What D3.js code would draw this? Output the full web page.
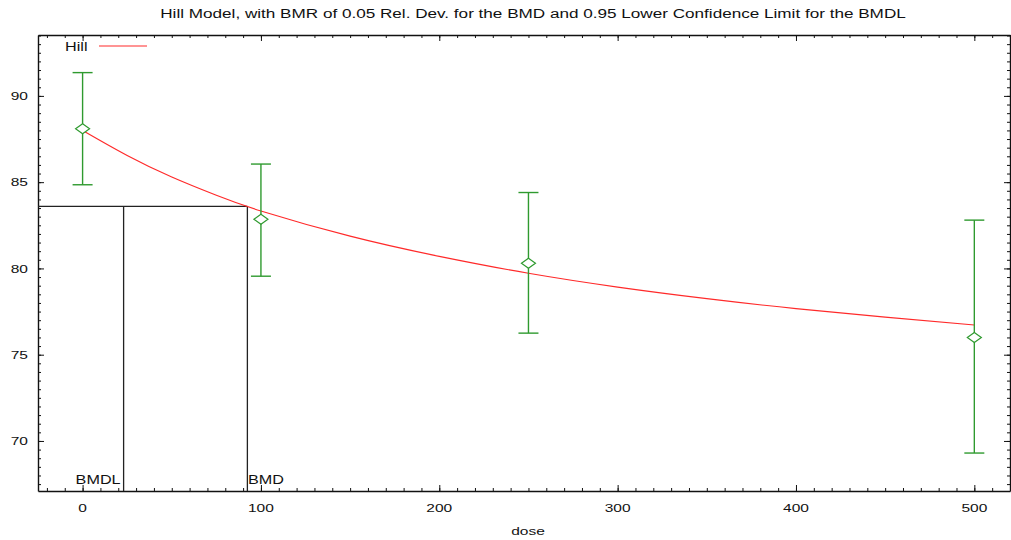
<!DOCTYPE html>
<html>
<head>
<meta charset="utf-8">
<script src="https://cdn.jsdelivr.net/npm/d3@7"></script>
<style>
  html, body { margin: 0; padding: 0; background: #fff; }
  svg { display: block; }
  text { font-family: "Liberation Sans", Arial, sans-serif; fill: #111; }
</style>
</head>
<body>
<svg id="chart" width="1011" height="540"></svg>
<script>
// Observed group means and error bar limits
const doses = [0, 100, 250, 500];
const means = [88.1, 82.85, 80.3, 76.0];
const lowerLimits = [84.85, 79.55, 76.25, 69.3];
const upperLimits = [91.35, 86.05, 84.4, 82.8];

// Fitted Hill model curve
const fitDoses = [0, 25, 50, 75, 100, 150, 200, 250, 300, 350, 400, 450, 500];
const fitValues = [88.0, 86.55, 85.3, 84.24, 83.33, 81.87, 80.7, 79.72, 78.92, 78.25, 77.67, 77.18, 76.72];

// Benchmark dose markers
const bmdLevel = 83.6;
const bmd = 92.4;
const bmdl = 23.0;

// Axis ticks
const xTicks = [0, 100, 200, 300, 400, 500];
const yTicks = [70, 75, 80, 85, 90];

const titleText = "Hill Model, with BMR of 0.05 Rel. Dev. for the BMD and 0.95 Lower Confidence Limit for the BMDL";
const xLabel = "dose";
const seriesName = "Hill";

const svg = d3.select("#chart");
const plotLeft = 38, plotRight = 1010, plotTop = 35, plotBottom = 491;
const stretch = 1.35;

const x = d3.scaleLinear().domain([-25, 520]).range([plotLeft, plotRight]);
const y = d3.scaleLinear().domain([67.1, 93.53]).range([plotBottom, plotTop]);

// text drawn with a slight horizontal stretch
function label(g, tx, ty, str, anchor, size, sx = stretch) {
  const t = g.append("g").attr("transform", `translate(${tx},${ty}) scale(${sx},1)`);
  t.append("text").attr("text-anchor", anchor).attr("font-size", size).text(str);
  return t;
}

const minorX = d3.range(-20, 521, 10);
const minorY = d3.range(67.5, 93.6, 0.5);

function styleAxis(g) {
  g.selectAll("path.domain").attr("stroke", "#111").attr("stroke-width", 1.4);
  g.selectAll(".tick line").attr("stroke", "#111").attr("stroke-width", 1);
  g.selectAll(".tick text").remove();
}

// bottom and top axes
[[d3.axisBottom, plotBottom], [d3.axisTop, plotTop]].forEach(([ax, pos]) => {
  svg.append("g").attr("transform", `translate(0,${pos})`)
    .call(ax(x).tickValues(minorX).tickSizeInner(-3).tickSizeOuter(0).tickFormat(""))
    .call(styleAxis);
  svg.append("g").attr("transform", `translate(0,${pos})`)
    .call(ax(x).tickValues(xTicks).tickSizeInner(-6).tickSizeOuter(0).tickFormat(""))
    .call(g => g.select("path.domain").remove())
    .call(styleAxis);
});
// left and right axes
[[d3.axisLeft, plotLeft], [d3.axisRight, plotRight]].forEach(([ax, pos]) => {
  svg.append("g").attr("transform", `translate(${pos},0)`)
    .call(ax(y).tickValues(minorY).tickSizeInner(-3).tickSizeOuter(0).tickFormat(""))
    .call(styleAxis);
  svg.append("g").attr("transform", `translate(${pos},0)`)
    .call(ax(y).tickValues(yTicks).tickSizeInner(-6).tickSizeOuter(0).tickFormat(""))
    .call(g => g.select("path.domain").remove())
    .call(styleAxis);
});

// tick labels
const xl = svg.append("g");
xTicks.forEach(v => label(xl, x(v), 512, String(v), "middle", 11.5));
const yl = svg.append("g");
yTicks.forEach(v => label(yl, 28, y(v) + 4.2, String(v), "end", 11.5));

// axis title and chart title
label(svg, (plotLeft + plotRight) / 2 + 4, 535, xLabel, "middle", 11.5);
label(svg, 533, 18, titleText, "middle", 12.5, 1.37);

// BMD / BMDL reference lines
const ref = svg.append("g").attr("fill", "none").attr("stroke", "#222").attr("stroke-width", 1.3);
ref.append("line").attr("x1", plotLeft).attr("x2", x(bmd)).attr("y1", y(bmdLevel)).attr("y2", y(bmdLevel));
ref.append("line").attr("x1", x(bmdl)).attr("x2", x(bmdl)).attr("y1", y(bmdLevel)).attr("y2", plotBottom);
ref.append("line").attr("x1", x(bmd)).attr("x2", x(bmd)).attr("y1", y(bmdLevel)).attr("y2", plotBottom);
label(svg, x(bmdl) - 3, 484, "BMDL", "end", 12);
label(svg, x(bmd) + 0.5, 484, "BMD", "start", 12);

// fitted curve
const line = d3.line().x((d, i) => x(fitDoses[i])).y(d => y(d)).curve(d3.curveNatural);
svg.append("path").datum(fitValues)
  .attr("d", line).attr("fill", "none").attr("stroke", "#ff2a2a").attr("stroke-width", 1.2);

// error bars with diamond markers
const green = "#2f9a2f";
const eb = svg.append("g").attr("stroke", green).attr("fill", "none").attr("stroke-width", 1.4);
doses.forEach((d, i) => {
  const cx = x(d);
  eb.append("line").attr("x1", cx).attr("x2", cx).attr("y1", y(lowerLimits[i])).attr("y2", y(upperLimits[i]));
  eb.append("line").attr("x1", cx - 10).attr("x2", cx + 10).attr("y1", y(upperLimits[i])).attr("y2", y(upperLimits[i]));
  eb.append("line").attr("x1", cx - 10).attr("x2", cx + 10).attr("y1", y(lowerLimits[i])).attr("y2", y(lowerLimits[i]));
  const cy = y(means[i]);
  eb.append("path").attr("fill", "#fff").attr("stroke-width", 1.2)
    .attr("d", `M${cx - 7},${cy} L${cx},${cy - 5} L${cx + 7},${cy} L${cx},${cy + 5} Z`);
});

// legend
label(svg, 65, 51.3, seriesName, "start", 12);
svg.append("line").attr("x1", 99).attr("x2", 147).attr("y1", 46).attr("y2", 46)
  .attr("stroke", "#ff2a2a").attr("stroke-width", 1.2);
</script>
</body>
</html>
